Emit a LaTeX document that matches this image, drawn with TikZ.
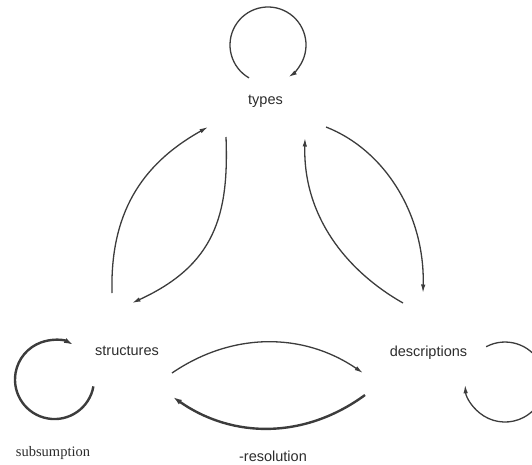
\documentclass[tikz,border=0pt]{standalone}
\usepackage{fontspec}
\setmainfont{Liberation Sans}
\newfontfamily\serifface{Liberation Serif}
\usetikzlibrary{arrows.meta}
\definecolor{linec}{HTML}{3C3C3C}
\definecolor{textc}{HTML}{2C2C2C}
\tikzset{
  lbl/.style={inner sep=0pt, anchor=base, text=textc, font=\fontsize{14.5}{16}\selectfont},
  seriflbl/.style={inner sep=0pt, anchor=base, text=textc, font=\serifface\fontsize{14.5}{16}\selectfont},
  thinarc/.style={draw=linec, line width=1.3pt, -{Latex[length=8.5pt,width=4.5pt]}},
  thickarc/.style={draw=linec, line width=2.4pt, -{Latex[length=9pt,width=5.5pt]}}
}
\begin{document}
\begin{tikzpicture}[x=1pt,y=-1pt]
\useasboundingbox (0,0) rectangle (532,464);
% labels
\node[lbl] (types) at (265.5,104) {types};
\node[lbl] (structures) at (127,355) {structures};
\node[lbl] (descriptions) at (428.5,356) {descriptions};
\node[lbl] (resolution) at (273,461) {-resolution};
\node[seriflbl] (subsumption) at (53,456) {subsumption};
% connector end points
\coordinate (st-a) at (112,293);
\coordinate (st-b) at (208,127);
\coordinate (ts-a) at (226,137);
\coordinate (ts-b) at (132,303);
\coordinate (td-a) at (326,127);
\coordinate (td-b) at (423,293);
\coordinate (dt-a) at (403,303);
\coordinate (dt-b) at (305,138);
\coordinate (sd-a) at (172,373);
\coordinate (sd-b) at (363,373);
\coordinate (ds-a) at (365,395);
\coordinate (ds-b) at (173,397);
\coordinate (tloop) at (249,77.9);
\coordinate (sloop) at (93.4,386.4);
\coordinate (dloop) at (486.2,346.7);
% structures <-> types
\draw[thinarc] (st-a) .. controls (110,215) and (140,165) .. (st-b);
\draw[thinarc] (ts-a) .. controls (229,215) and (215,265) .. (ts-b);
% types <-> descriptions
\draw[thinarc] (td-a) .. controls (385,150) and (425,215) .. (td-b);
\draw[thinarc] (dt-a) .. controls (345,270) and (303,215) .. (dt-b);
% structures <-> descriptions
\draw[thinarc] (sd-a) .. controls (232,332) and (303,332) .. (sd-b);
\draw[thickarc] (ds-a) .. controls (305,439) and (233,439) .. (ds-b);
% loops
\draw[thinarc] (tloop) arc[start angle=120, end angle=417.5, radius=38];
\draw[thickarc] (sloop) arc[start angle=10, end angle=298, radius=39.5];
\draw[thinarc] (dloop) arc[start angle=242, end angle=536, radius=40];
\end{tikzpicture}
\end{document}
